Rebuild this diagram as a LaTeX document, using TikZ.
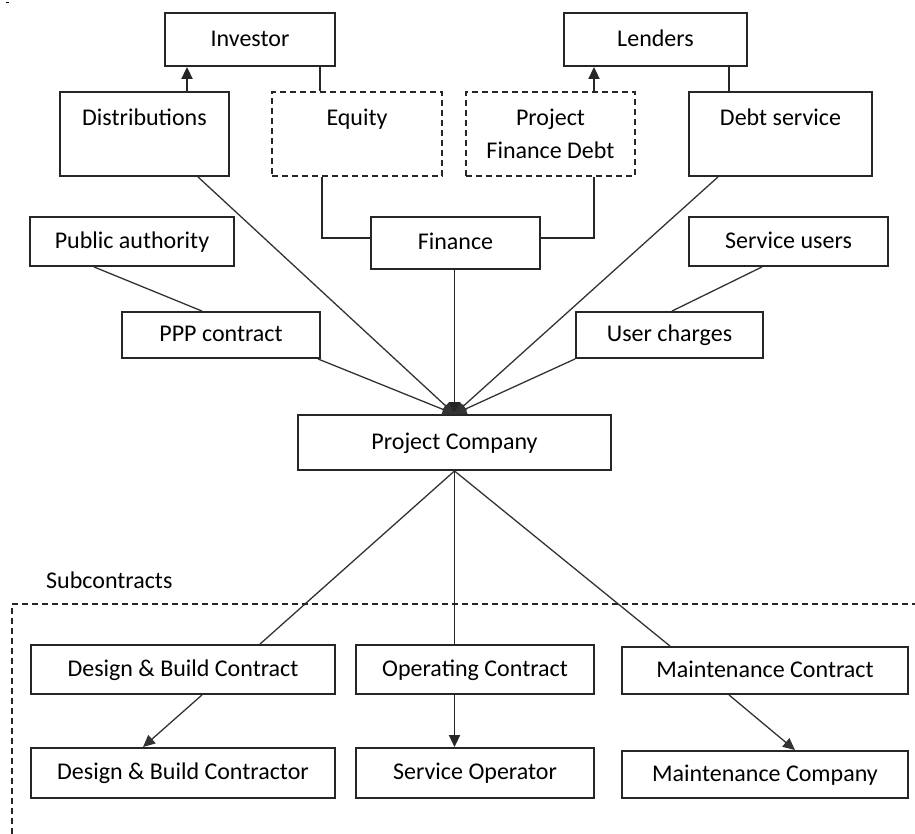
\documentclass[tikz,border=0pt]{standalone}
\usepackage{fontspec}
\setmainfont{Carlito}
\usetikzlibrary{arrows.meta}
\newcommand{\tallstrut}{\rule{0pt}{25pt}}
\tikzset{
  box/.style={draw=black!85, line width=1.9pt, inner sep=0pt, align=center,
    font=\fontsize{24}{33}\selectfont, execute at begin node=\strut},
  tallbox/.style={draw=black!85, line width=1.9pt, inner sep=0pt, align=center,
    font=\fontsize{24}{33}\selectfont},
  dbox/.style={tallbox, dash pattern=on 6pt off 4pt},
  conn/.style={draw=black!85, line width=1.9pt},
  dconn/.style={draw=black!80, line width=1.3pt},
  arr/.style={-{Triangle[length=12pt,width=11pt]}},
}
\begin{document}
\begin{tikzpicture}[x=1pt,y=-1pt]
\useasboundingbox (0,0) rectangle (915,834);
% x helpers
\foreach \xx in {94,143,187,198,202,238,260,318,320,322,594,670,672,718,729,762,795}{
  \coordinate (x\xx) at (\xx,0);
}
% top row
\node[box, minimum width=170pt, minimum height=53pt] (Inv) at (250,39.5) {Investor};
\node[box, minimum width=183pt, minimum height=53pt] (Len) at (655.5,39.5) {Lenders};
\node[tallbox, minimum width=169pt, minimum height=84pt] (Dist) at (144.5,134) {\tallstrut Distributions\\\strut};
\node[dbox, minimum width=170pt, minimum height=84pt] (Eq) at (357,134) {\tallstrut Equity\\\strut};
\node[dbox, minimum width=169pt, minimum height=84pt] (PFD) at (550.5,134) {\tallstrut Project\\\strut Finance Debt};
\node[tallbox, minimum width=183pt, minimum height=84pt] (Debt) at (780.5,134) {\tallstrut Debt service\\\strut};
% middle
\node[box, minimum width=204pt, minimum height=49pt] (PA) at (132,241.5) {Public authority};
\node[box, minimum width=169pt, minimum height=52pt] (Fin) at (455.5,243) {Finance};
\node[box, minimum width=199pt, minimum height=49pt] (SU) at (788.5,241.5) {Service users};
\node[box, minimum width=198pt, minimum height=46pt] (PPP) at (221,335) {PPP contract};
\node[box, minimum width=187pt, minimum height=46pt] (UC) at (669.5,335) {User charges};
\node[box, minimum width=313pt, minimum height=55pt] (PC) at (454.5,442.5) {Project Company};
% subcontracts
\node[inner sep=0pt, anchor=west, font=\fontsize{24}{33}\selectfont] (Sub) at (46,580) {Subcontracts};
\node[box, minimum width=304pt, minimum height=49pt] (DBC) at (183,669.5) {Design \& Build Contract};
\node[box, minimum width=238pt, minimum height=49pt] (OC) at (475,669.5) {Operating Contract};
\node[box, minimum width=286pt, minimum height=47pt] (MC) at (765,670.5) {Maintenance Contract};
\node[box, minimum width=304pt, minimum height=50pt] (DBR) at (183,773) {Design \& Build Contractor};
\node[box, minimum width=238pt, minimum height=50pt] (SO) at (475,773) {Service Operator};
\node[box, minimum width=286pt, minimum height=47pt] (MCo) at (765,774.5) {Maintenance Company};
\coordinate (yline) at (0,238);
% connectors top
\draw[conn, arr] (Dist.north -| x187) -- (Inv.south -| x187);
\draw[conn] (Inv.south -| x320) -- (Eq.north -| x320);
\draw[conn] (Eq.south -| x322) |- (Fin.west |- yline);
\draw[conn, arr] (PFD.north -| x594) -- (Len.south -| x594);
\draw[conn] (PFD.south -| x594) |- (Fin.east |- yline);
\draw[conn] (Len.south -| x729) -- (Debt.north -| x729);
% into project company
\draw[dconn, arr] (Dist.south -| x198) -- (PC.north);
\draw[dconn, arr] (Debt.south -| x718) -- (PC.north);
\draw[conn, arr] (Fin.south -| PC.north) -- (PC.north);
\draw[dconn] (PA.south -| x94) -- (PPP.north -| x202);
\draw[dconn, arr] (PPP.south -| x318) -- (PC.north);
\draw[dconn] (SU.south -| x762) -- (UC.north -| x672);
\draw[dconn, arr] (UC.south west) -- (PC.north);
% subcontracts
\draw[dconn] (PC.south) -- (DBC.north -| x260);
\draw[conn] (PC.south) -- (PC.south |- OC.north);
\draw[dconn] (PC.south) -- (MC.north -| x670);
\draw[dconn, arr] (DBC.south -| x202) -- (DBR.north -| x143);
\draw[conn, arr] (OC.south -| PC.south) -- (SO.north -| PC.south);
\draw[dconn, arr] (MC.south -| x729) -- (MCo.north -| x795);
\draw[draw=black!85, line width=1.3pt, dash pattern=on 6pt off 4pt] (918,604) -- (12,604) -- (12,837);
\draw[line width=1pt] (6,3) -- (9,3);
\end{tikzpicture}
\end{document}
